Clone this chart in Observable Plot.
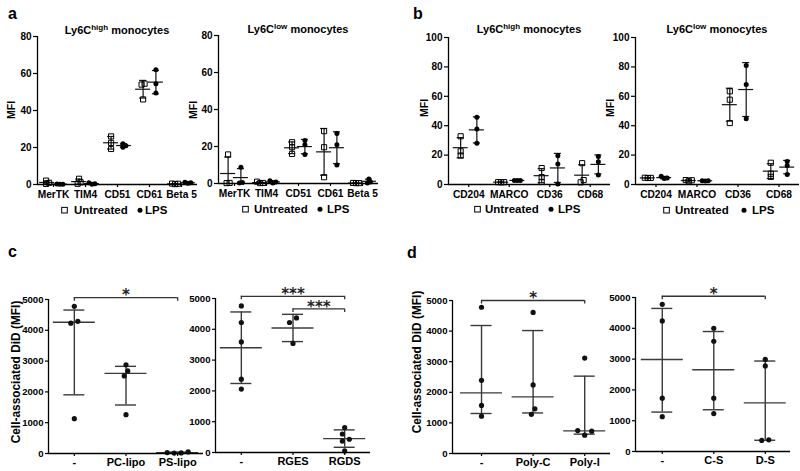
<!DOCTYPE html>
<html><head><meta charset="utf-8">
<script src="https://cdn.jsdelivr.net/npm/d3@7"></script>
<script src="https://cdn.jsdelivr.net/npm/@observablehq/plot@0.6"></script>
<style>
html,body{margin:0;padding:0;background:#fff;}
#root{position:relative;width:800px;height:471px;overflow:hidden;background:#fff;}
#root svg{position:absolute;}
</style></head><body><div id="root"></div>
<script>
// ---------------- data ----------------
const aCats = ["MerTK", "TIM4", "CD51", "CD61", "Beta 5"];
const aHighUntreated = [[2.1, 0.9, 0.3], [3.1, 1.2, 0.4], [26, 22.5, 19.2], [54.5, 54, 46], [0.5, 0.4, 0.2]];
const aHighLPS = [[0.2, 0.1, 0.3], [0.1, 0.4, 0.9], [22, 21, 20.2], [62, 54.5, 49.5], [1.0, 0.7, 1.2]];
const aLowUntreated = [[15.7, 0.2, 0.3], [1.0, 0.3, 0.2], [22.3, 19.6, 16], [28.3, 19.6, 3.4], [0.2, 0.2, 0.3]];
const aLowLPS = [[8.8, 0.3, 0.5], [1.5, 0.8, 0.3], [23.2, 21, 15.7], [27, 21, 10], [2.5, 0.8, 0.3]];

const bCats = ["CD204", "MARCO", "CD36", "CD68"];
const bHighUntreated = [[32.8, 22.6, 19.7], [1.6, 1.5, 1.6], [11.2, 5, 1.8], [14.5, 3, 1.5]];
const bHighLPS = [[45.7, 37.8, 28], [2.8, 2.7, 2.8], [19.5, 14, 0.3], [19, 15.5, 6.5]];
const bLowUntreated = [[4.6, 4.4, 4.5], [3.0, 2.2, 2.9], [63.4, 57.7, 41.8], [14.8, 7.3, 5.2]];
const bLowLPS = [[5.6, 4.0, 4.5], [2.6, 2.4, 2.6], [81, 68, 44.8], [15.7, 13, 6.8]];

const cLipoCats = ["-", "PC-lipo", "PS-lipo"];
const cLipoValues = [[4780, 4290, 4230, 1130], [2880, 2680, 2520, 1260], [30, 15, 20, 50]];
const cPeptideCats = ["-", "RGES", "RGDS"];
const cPeptideValues = [[4760, 4220, 3590, 2380, 2060], [4370, 4220, 3540], [810, 600, 430, 370, 50]];
const dPolyCats = ["-", "Poly-C", "Poly-I"];
const dPolyValues = [[4780, 2390, 1570, 1220], [4610, 2240, 1460, 1280], [3120, 750, 730, 600]];
const dSulfCats = ["-", "C-S", "D-S"];
const dSulfValues = [[4780, 4240, 1730, 1130], [4000, 3580, 1730, 1230], [2990, 2780, 360, 380]];

const cLipoSig = [{from: "-", to: "PS-lipo", label: "*", level: 5060}];
const cPeptideSig = [{from: "-", to: "RGDS", label: "***", level: 5070}, {from: "RGES", to: "RGDS", label: "***", level: 4660}];
const dPolySig = [{from: "-", to: "Poly-I", label: "*", level: 5000}];
const dSulfSig = [{from: "-", to: "D-S", label: "*", level: 5040}];

const aTicks = [0, 20, 40, 60, 80];
const bTicks = [0, 20, 40, 60, 80, 100];
const cdTicks = [0, 1000, 2000, 3000, 4000, 5000];
const groupNames = ["Untreated", "LPS"];

// ---------------- helpers ----------------
const FF = "Liberation Sans, Arial, sans-serif";
const root = document.getElementById("root");

function swarm(values, pxY, s, d) {
  const idx = d3.range(values.length).sort((i, j) => values[i] - values[j]);
  const placed = [], off = new Array(values.length);
  for (const i of idx) {
    const py = values[i] * pxY;
    for (let k = 0; k < 40; k++) {
      const o = k === 0 ? 0 : (k % 2 ? 1 : -1) * Math.ceil(k / 2) * s;
      if (placed.every(p => Math.hypot(p.o - o, p.py - py) >= d)) { off[i] = o; placed.push({o, py}); break; }
    }
  }
  let cl = [idx[0]];
  const flush = () => { const m = d3.mean(cl, i => off[i]); cl.forEach(i => off[i] -= m); };
  for (let t = 1; t < idx.length; t++) {
    if ((values[idx[t]] - values[idx[t - 1]]) * pxY < d) cl.push(idx[t]);
    else { flush(); cl = [idx[t]]; }
  }
  flush();
  return off;
}

function quart(sorted, p) {
  const n = sorted.length, h = (n + 1) * p, lo = Math.floor(h), f = h - lo;
  if (lo < 1) return sorted[0];
  if (lo >= n) return sorted[n - 1];
  return sorted[lo - 1] + f * (sorted[lo] - sorted[lo - 1]);
}

function statOf(vals, kind) {
  if (kind === "median") {
    const s = vals.slice().sort((a, b) => a - b);
    return {c: d3.median(s), lo: quart(s, 0.25), hi: quart(s, 0.75), loCap: true};
  }
  const m = d3.mean(vals), sd = d3.deviation(vals);
  return {c: m, lo: Math.max(0, m - sd), hi: m + sd, loCap: m - sd >= 0};
}

function errMarks(stats, pxX, meanHalf, capHalf, stroke, sw) {
  const h = v => v / pxX;
  return [
    Plot.ruleX(stats, {x: "x", y1: "lo", y2: "hi", stroke, strokeWidth: sw}),
    Plot.ruleY(stats, {y: "c", x1: d => d.x - h(meanHalf), x2: d => d.x + h(meanHalf), stroke, strokeWidth: sw}),
    Plot.ruleY(stats, {y: "hi", x1: d => d.x - h(capHalf), x2: d => d.x + h(capHalf), stroke, strokeWidth: sw}),
    Plot.ruleY(stats.filter(d => d.loCap), {y: "lo", x1: d => d.x - h(capHalf), x2: d => d.x + h(capHalf), stroke, strokeWidth: sw})
  ];
}

function place(svg, left, top) {
  svg.style.left = left + "px";
  svg.style.top = top + "px";
  root.appendChild(svg);
}

const baseStyle = {background: "transparent", overflow: "visible", color: "black", fontFamily: FF, fontWeight: "bold"};

function mfiPanel(cfg) {
  const {left, top, width, height, x0, x1, yTop, yBot, ymax, ticks, cats, untreated, lps} = cfg;
  const d0 = -0.5, d1 = cats.length - 0.5;
  const pxX = (x1 - x0) / (d1 - d0), pxY = (yBot - yTop) / ymax;
  const build = (groups, shift) => {
    const pts = [], stats = [];
    groups.forEach((vals, i) => {
      const o = swarm(vals, pxY, 3, 3);
      vals.forEach((v, j) => pts.push({x: i + shift + o[j] / pxX, y: v}));
      stats.push({x: i + shift, ...statOf(vals, "mean")});
    });
    return {pts, stats};
  };
  const U = build(untreated, -0.2), L = build(lps, 0.2);
  const svg = Plot.plot({
    width, height,
    marginLeft: x0 - left, marginRight: left + width - x1,
    marginTop: yTop - top, marginBottom: top + height - yBot,
    x: {domain: [d0, d1]}, y: {domain: [0, ymax]},
    style: baseStyle,
    marks: [
      ...errMarks(U.stats, pxX, 7.5, 3.5, "#111", 1.2),
      ...errMarks(L.stats, pxX, 7.5, 3.5, "#111", 1.2),
      Plot.dot(U.pts, {x: "x", y: "y", symbol: "square", r: 2.9, stroke: "black", fill: "none", strokeWidth: 1}),
      Plot.dot(L.pts, {x: "x", y: "y", r: 2.5, fill: "black"}),
      Plot.ruleY([0], {stroke: "black", strokeWidth: 1.3}),
      Plot.ruleX([d0], {stroke: "black", strokeWidth: 1.3}),
      Plot.axisY({ticks, tickFormat: d3.format("d"), tickSize: 4, tickPadding: 2, fontSize: 10, label: null, strokeWidth: 1.2}),
      Plot.axisX({ticks: d3.range(cats.length), tickFormat: i => cats[i], tickSize: 3, tickPadding: 3, fontSize: 10.2, label: null, strokeWidth: 1.2})
    ]
  });
  place(svg, left, top);
}

function didPanel(cfg) {
  const {left, top, width, height, x0, x1, yTop, yBot, domain, cats, groups, kind, sig} = cfg;
  const ymax = 5000;
  const pxX = (x1 - x0) / (domain[1] - domain[0]), pxY = (yBot - yTop) / ymax;
  const pts = [], stats = [];
  groups.forEach((vals, i) => {
    const o = swarm(vals, pxY, 3.5, 6);
    vals.forEach((v, j) => pts.push({x: i + o[j] / pxX, y: v}));
    stats.push({x: i, ...statOf(vals, kind)});
  });
  const ix = n => cats.indexOf(n);
  const drop = 3.5 / pxY;
  const ends = sig.flatMap(s => [{x: ix(s.from), y1: s.level, y2: s.level - drop}, {x: ix(s.to), y1: s.level, y2: s.level - drop}]);
  const svg = Plot.plot({
    width, height,
    marginLeft: x0 - left, marginRight: left + width - x1,
    marginTop: yTop - top, marginBottom: top + height - yBot,
    x: {domain}, y: {domain: [0, ymax]},
    style: baseStyle,
    marks: [
      ...errMarks(stats, pxX, 21, 10.5, "#3a3a3a", 1.4),
      Plot.dot(pts, {x: "x", y: "y", r: 2.6, fill: "#111"}),
      Plot.ruleY(sig, {y: "level", x1: d => ix(d.from), x2: d => ix(d.to), stroke: "#333", strokeWidth: 1.3}),
      Plot.ruleX(ends, {x: "x", y1: "y1", y2: "y2", stroke: "#333", strokeWidth: 1.3}),
      Plot.text(sig, {x: d => (ix(d.from) + ix(d.to)) / 2, y: "level", text: "label", fontSize: 15, dy: -2, fill: "#222", fontFamily: "DejaVu Sans"}),
      Plot.ruleY([0], {stroke: "black", strokeWidth: 1.3}),
      Plot.ruleX([domain[0]], {stroke: "black", strokeWidth: 1.3}),
      Plot.axisY({ticks: cdTicks, tickFormat: d3.format("d"), tickSize: 3, tickPadding: 2, fontSize: 9.6, label: null, strokeWidth: 1.2}),
      Plot.axisX({ticks: d3.range(cats.length), tickFormat: i => cats[i], tickSize: 3, tickPadding: 2, fontSize: 11, label: null, strokeWidth: 1.2})
    ]
  });
  place(svg, left, top);
}

// ---------------- panels ----------------
mfiPanel({left: 0, top: 0, width: 200, height: 205, x0: 37, x1: 197, yTop: 36, yBot: 184, ymax: 80, ticks: aTicks, cats: aCats, untreated: aHighUntreated, lps: aHighLPS});
mfiPanel({left: 190, top: 0, width: 192, height: 205, x0: 218, x1: 378, yTop: 35, yBot: 183, ymax: 80, ticks: aTicks, cats: aCats, untreated: aLowUntreated, lps: aLowLPS});
mfiPanel({left: 400, top: 0, width: 212, height: 205, x0: 448, x1: 610, yTop: 37, yBot: 184, ymax: 100, ticks: bTicks, cats: bCats, untreated: bHighUntreated, lps: bHighLPS});
mfiPanel({left: 612, top: 0, width: 188, height: 205, x0: 635, x1: 799, yTop: 37, yBot: 184, ymax: 100, ticks: bTicks, cats: bCats, untreated: bLowUntreated, lps: bLowLPS});

didPanel({left: 0, top: 270, width: 205, height: 200, x0: 48, x1: 203, yTop: 299, yBot: 453, domain: [-0.5, 2.5], cats: cLipoCats, groups: cLipoValues, kind: "median", sig: cLipoSig});
didPanel({left: 205, top: 270, width: 168, height: 200, x0: 215, x1: 370, yTop: 298, yBot: 452, domain: [-0.5, 2.5], cats: cPeptideCats, groups: cPeptideValues, kind: "mean", sig: cPeptideSig});
didPanel({left: 400, top: 270, width: 212, height: 200, x0: 452, x1: 610, yTop: 300, yBot: 453, domain: [-0.5625, 2.5], cats: dPolyCats, groups: dPolyValues, kind: "median", sig: dPolySig});
didPanel({left: 612, top: 270, width: 186, height: 200, x0: 635, x1: 790, yTop: 297, yBot: 451, domain: [-0.52, 2.49], cats: dSulfCats, groups: dSulfValues, kind: "median", sig: dSulfSig});

// ---------------- text overlay ----------------
const ov = d3.select(root).append("svg").attr("width", 800).attr("height", 471)
  .style("left", "0px").style("top", "0px").style("pointer-events", "none")
  .attr("font-family", FF).attr("font-weight", "bold").attr("fill", "black");

[["a", 8, 19], ["b", 413, 19], ["c", 8, 257], ["d", 407, 258]].forEach(([t, x, y]) =>
  ov.append("text").attr("x", x).attr("y", y).attr("font-size", 16).text(t));

[[117, 34, "high"], [298, 33, "low"], [529, 33, "high"], [717, 33, "low"]].forEach(([x, y, sup]) => {
  const t = ov.append("text").attr("x", x).attr("y", y).attr("text-anchor", "middle").attr("font-size", 11);
  t.append("tspan").text("Ly6C");
  t.append("tspan").attr("font-size", 8).attr("dy", -4.5).text(sup);
  t.append("tspan").attr("dy", 4.5).text(" monocytes");
});

function vtext(cx, cy, s, size) {
  ov.append("text").attr("transform", `translate(${cx},${cy}) rotate(-90)`)
    .attr("text-anchor", "middle").attr("dy", "0.36em")
    .attr("font-size", size).text(s);
}
vtext(11, 110, "MFI", 10.5);
vtext(193, 110, "MFI", 10.5);
vtext(424, 108, "MFI", 10.5);
vtext(610, 108, "MFI", 10.5);
vtext(16, 372, "Cell-associated DiD (MFI)", 11.9);
vtext(417, 362, "Cell-associated DiD (MFI)", 11.9);

// legends
[[64.5, 74, 140, 145, 214], [245.5, 254, 320, 327, 213], [477.5, 485, 551, 558, 213], [666.5, 675, 744, 752, 214]]
  .forEach(([sq, t1, dot, t2, base]) => {
    const cy = base - 3.8;
    ov.append("rect").attr("x", sq - 2.8).attr("y", cy - 2.8).attr("width", 5.6).attr("height", 5.6)
      .attr("fill", "none").attr("stroke", "black").attr("stroke-width", 1);
    ov.append("text").attr("x", t1).attr("y", base).attr("font-size", 11.5).text(groupNames[0]);
    ov.append("circle").attr("cx", dot).attr("cy", cy).attr("r", 2.5).attr("fill", "black");
    ov.append("text").attr("x", t2).attr("y", base).attr("font-size", 11.5).text(groupNames[1]);
  });
</script>
</body></html>
